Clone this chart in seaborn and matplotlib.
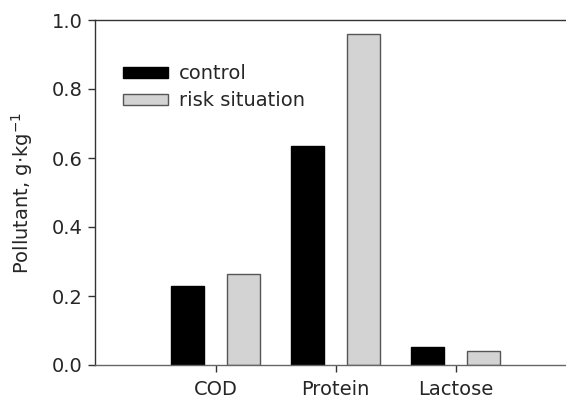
import matplotlib
matplotlib.use("Agg")
import matplotlib.pyplot as plt
import seaborn as sns
import pandas as pd

categories = ["COD", "Protein", "Lactose"]
series = ["control", "risk situation"]
control = [0.228, 0.636, 0.051]
risk = [0.263, 0.960, 0.041]
yticks = [0.0, 0.2, 0.4, 0.6, 0.8, 1.0]

df = pd.DataFrame({
    "category": categories * 2,
    "series": [series[0]] * 3 + [series[1]] * 3,
    "value": control + risk,
})

sns.set_style("white")
plt.rcParams["font.family"] = ["DejaVu Sans"]

fig = plt.figure(figsize=(5.66, 4.0), dpi=100)
ax = fig.add_axes([95 / 566, 35 / 400, 471 / 566, 345 / 400])

sns.barplot(data=df, x="category", y="value", hue="series", order=categories,
            hue_order=series, palette=["#000000", "#d3d3d3"], width=0.935, gap=0.40,
            ax=ax, saturation=1, errorbar=None)

for bar in ax.patches:
    fc = bar.get_facecolor()
    if fc[0] > 0.5:
        bar.set_edgecolor("#555555")
    else:
        bar.set_edgecolor("#000000")
    bar.set_linewidth(1.0)

ax.set_xlim(-1.005, 2.92)
ax.set_ylim(0, 1.0)
ax.set_yticks(yticks)
ax.set_yticklabels([f"{t:.1f}" for t in yticks])
ax.set_xlabel("")
ax.set_ylabel("Pollutant, g$\\cdot$kg$^{-1}$", fontsize=14, labelpad=12)

ax.tick_params(axis="both", labelsize=14, direction="out", length=5, width=1,
               color="#333333", pad=4, bottom=True, left=True)
ax.tick_params(axis="x", pad=6)

ax.spines["right"].set_visible(False)
ax.spines["top"].set_visible(True)
ax.spines["top"].set_color("#333333")
ax.spines["left"].set_color("#333333")
ax.spines["bottom"].set_color("#666666")
for s in ["top", "left", "bottom"]:
    ax.spines[s].set_linewidth(1.0)

handles, labels = ax.get_legend_handles_labels()
leg = ax.legend(handles, labels, loc="upper left", bbox_to_anchor=(0.059, 0.872),
                frameon=False, fontsize=14, handlelength=2.3, handleheight=0.5,
                handletextpad=0.6, labelspacing=0.42, borderpad=0, borderaxespad=0)
for h in leg.legend_handles:
    h.set_linewidth(1.0)

fig.savefig("out.png", dpi=100)
